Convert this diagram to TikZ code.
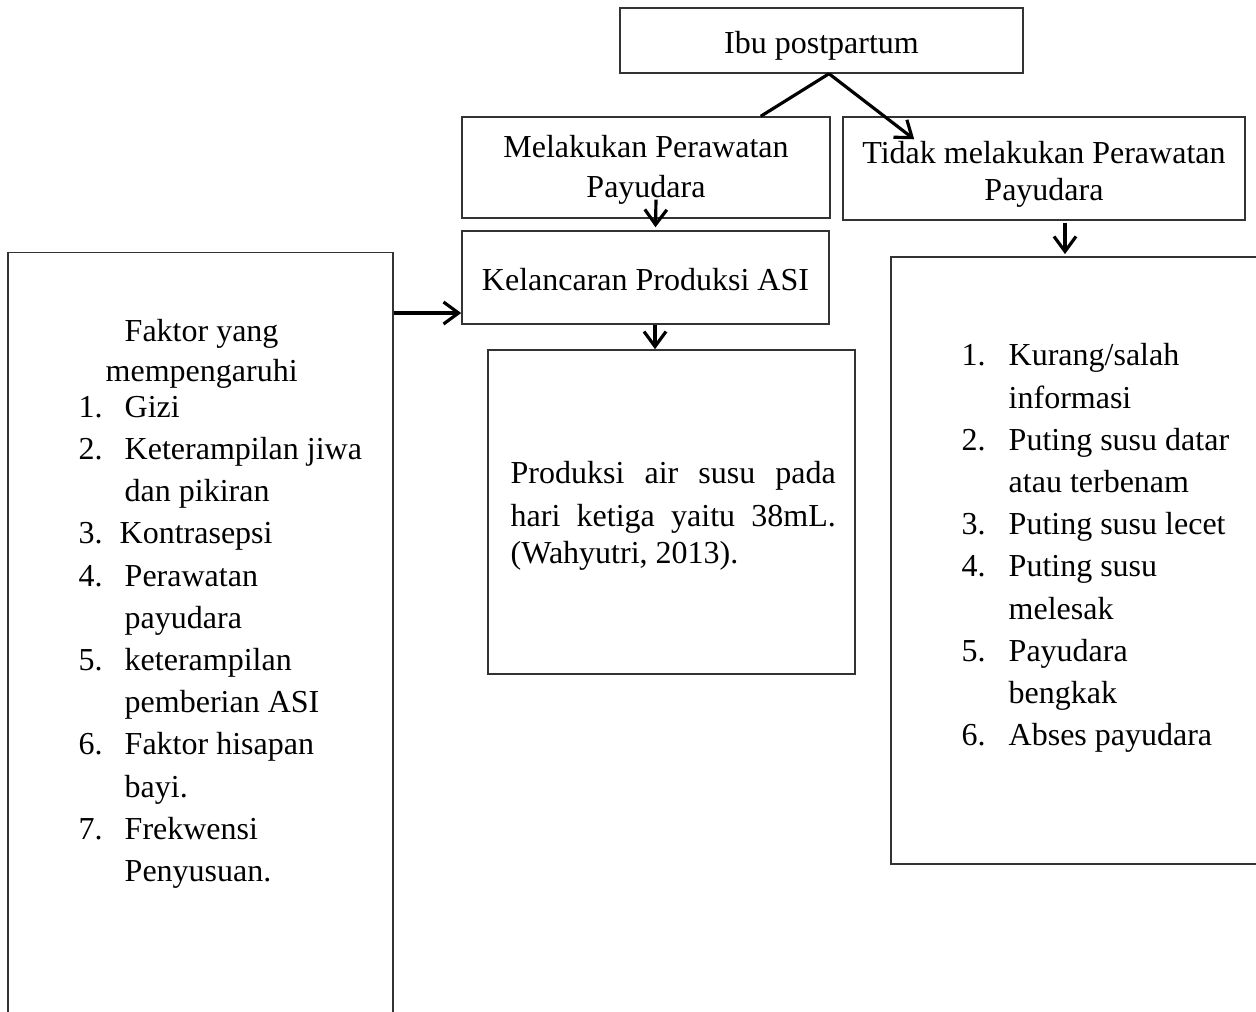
\documentclass[tikz,border=0pt]{standalone}
\usepackage{fontspec}
\setmainfont{Liberation Serif}
\usetikzlibrary{arrows.meta}
\newcommand{\itm}[1]{\makebox[0.46cm][l]{#1}}
\newcommand{\itmr}[1]{\makebox[0.47cm][l]{#1}}
\newcommand{\boxtxt}[2]{\raisebox{0pt}[\dimexpr\height+#1+#1\relax][\depth]{\begin{tabular}{@{}c@{}}#2\end{tabular}}}
\begin{document}
\begin{tikzpicture}[x=0.01cm,y=-0.01cm,
    every node/.style={font=\fontsize{9.1}{12}\selectfont},
    box/.style={draw=black!80,line width=0.4pt,rectangle,inner sep=0pt,align=center},
    txt/.style={inner sep=0pt,anchor=base west},
    arr/.style={line width=0.9pt,-{Straight Barb[length=0.15cm,width=0.22cm]}},
    link/.style={line width=0.9pt}]
            \useasboundingbox (0,0) rectangle (1256,1012);
            \clip (0,0) rectangle (1256,1012);

            \node[box,minimum width=4.03cm,minimum height=0.65cm] (top) at (821.5,40.5) {\boxtxt{0.05cm}{Ibu postpartum}};
            \node[box,minimum width=3.68cm,minimum height=1.01cm] (care) at (646,167.5) {\boxtxt{0.015cm}{Melakukan Perawatan\\[-0.03cm]Payudara}};
            \node[box,minimum width=4.02cm,minimum height=1.03cm] (notcare) at (1044,168.5) {\boxtxt{0.05cm}{Tidak melakukan Perawatan\\[-0.06cm]Payudara}};
            \node[box,minimum width=3.67cm,minimum height=0.93cm] (asi) at (645.5,277.5) {\boxtxt{0.05cm}{Kelancaran Produksi ASI}};
            \node[box,minimum width=3.67cm,minimum height=3.24cm] (prod) at (671.5,512) {};
            \node[box,minimum width=3.85cm,minimum height=7.87cm] (factor) at (200.5,646.5) {};
            \node[box,minimum width=3.89cm,minimum height=6.07cm] (problem) at (1085.5,560.5) {};

            \node[txt] (prodtxt) at (510,484) {\begin{tabular}[t]{@{}l@{}}
                \makebox[3.25cm][s]{Produksi air susu pada}\\
                \makebox[3.25cm][s]{hari ketiga yaitu 38mL.}\\[-0.05cm]
                (Wahyutri, 2013).
            \end{tabular}};
            \node[txt] (factortxt) at (78,341) {\begin{tabular}[t]{@{}l@{}}
                \hspace*{0.46cm}Faktor yang\\[-0.02cm]
                \hspace*{0.27cm}mempengaruhi\\[-0.06cm]
                \itm{1.}Gizi\\
                \itm{2.}Keterampilan jiwa\\
                \itm{}dan pikiran\\
                \makebox[0.41cm][l]{3.}Kontrasepsi\\
                \itm{4.}Perawatan\\
                \itm{}payudara\\
                \itm{5.}keterampilan\\
                \itm{}pemberian ASI\\
                \itm{6.}Faktor hisapan\\
                \itm{}bayi.\\
                \itm{7.}Frekwensi\\
                \itm{}Penyusuan.
            \end{tabular}};
            \node[txt] (problemtxt) at (961,366) {\begin{tabular}[t]{@{}l@{}}
                \itmr{1.}Kurang/salah\\
                \itmr{}informasi\\
                \itmr{2.}Puting susu datar\\
                \itmr{}atau terbenam\\
                \itmr{3.}Puting susu lecet\\
                \itmr{4.}Puting susu\\
                \itmr{}melesak\\
                \itmr{5.}Payudara\\
                \itmr{}bengkak\\
                \itmr{6.}Abses payudara
            \end{tabular}};

            \coordinate (split) at ([xshift=0.075cm]top.south);
            \coordinate (inleft) at ([yshift=-0.355cm]asi.west);
            \draw[link] (split) -- ([xshift=-0.7cm]care.north east);
            \draw[arr] (split) -- ([xshift=0.72cm,yshift=-0.23cm]notcare.north west);
            \draw[arr] ([xshift=0.1cm,yshift=0.19cm]care.south) -- ([xshift=0.1cm,yshift=0.03cm]asi.north);
            \draw[arr] ([xshift=0.095cm]asi.south) -- ([xshift=0.095cm]asi.south |- prod.north);
            \draw[arr] ([xshift=0.21cm,yshift=-0.02cm]notcare.south) -- ([xshift=0.21cm,yshift=0.02cm]notcare.south |- problem.north);
            \draw[arr] (factor.east |- inleft) -- (inleft);
        \end{tikzpicture}
\end{document}
